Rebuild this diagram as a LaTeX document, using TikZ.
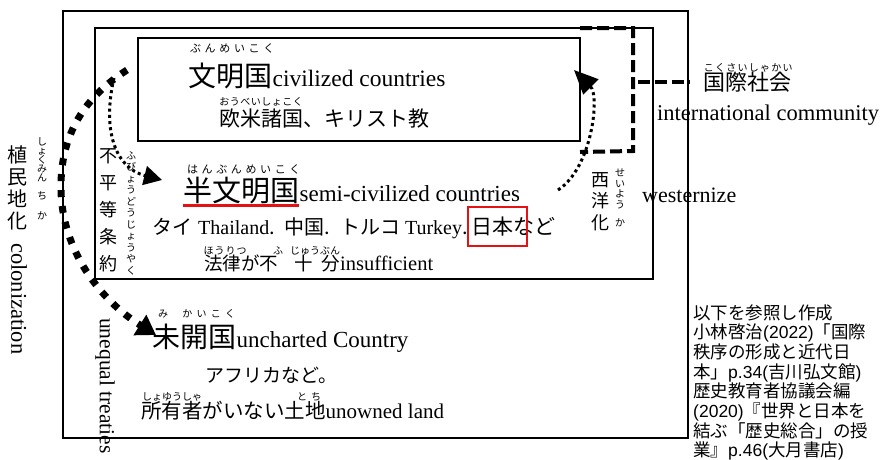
\documentclass[tikz,border=0pt]{standalone}
\usepackage{fontspec}
\setmainfont{Liberation Serif}
\newfontfamily\jpf{Noto Sans CJK JP}
\newfontfamily\lsf{Liberation Sans}
\usetikzlibrary{arrows.meta}
\newcommand\fs[1]{\fontsize{#1}{#1}\selectfont}
\makeatletter
\newcommand\rubyspread[2]{\makebox[#1][s]{\@tfor\rb@c:=#2\do{\hfil\rb@c\hfil}}}
\makeatother
\definecolor{myred}{RGB}{228,18,18}
\tikzset{
  txt/.style={inner sep=0pt, anchor=base west},
  vch/.style={inner sep=0pt, anchor=base},
  frame/.style={draw, line width=1.6pt, inner sep=0pt, anchor=north west},
  bigdots/.style={line width=7pt, dash pattern=on 7pt off 9pt, -{Triangle[length=19pt,width=23pt]}},
  thindots/.style={line width=3pt, dash pattern=on 3pt off 3.2pt, -{Triangle[length=18pt,width=19pt]}},
  westdots/.style={line width=3pt, dash pattern=on 3pt off 3.2pt, -{Triangle[length=24pt,width=21pt]}},
  bracket/.style={line width=4pt, dash pattern=on 12pt off 5pt},
}
\begin{document}
\begin{tikzpicture}[x=1pt,y=-1pt]
\useasboundingbox (0,0) rectangle (882,459);
% frames
\node[frame, minimum width=625pt, minimum height=427pt] (outer) at (62,10) {};
\node[frame, minimum width=558pt, minimum height=251pt] (middle) at (94,27) {};
\node[frame, minimum width=442pt, minimum height=103pt] (civbox) at (137,37) {};

% civilized
\node[txt] (bunmeiR) at (188,52) {\jpf\fs{11}\rubyspread{88pt}{ぶんめいこく}};
\node[txt] (bunmei) at (188,86) {\jpf\fs{28}文明国};
\node[txt] (civ) at (bunmei.base east) {\fs{23.5}civilized countries};
\node[txt] (oubeiR) at (219,105) {\jpf\fs{10}\rubyspread{84pt}{おうべいしょこく}};
\node[txt] (oubei) at (219,126) {\jpf\fs{21}欧米諸国、キリスト教};

% semi-civilized
\node[txt] (hanR) at (185,173) {\jpf\fs{11}\rubyspread{117pt}{はんぶんめいこく}};
\node[txt] (han) at (183,201) {\jpf\fs{29}半文明国};
\node[txt] (semi) at (han.base east) {\fs{23}semi-civilized countries};
\draw[myred, line width=3pt] ([yshift=-4pt]han.base west) -- ([yshift=-4pt]han.base east);
\node[txt] (tai) at (152,234) {\jpf\fs{20}タイ\hspace{6pt}{\rmfamily Thailand}.\hspace{10pt}中国.\hspace{10pt}トルコ\hspace{5pt}{\rmfamily Turkey}.\hspace{4pt}{\fs{21}日本など}};
\draw[myred, line width=2.5pt] (468,207) rectangle (527,246);
\node[txt] (houritsuR) at (203,254) {\jpf\fs{10}\rubyspread{44pt}{ほうりつ}};
\node[txt] (fuR) at (273,254) {\jpf\fs{10}ふ};
\node[txt] (juubunR) at (290,254) {\jpf\fs{10}\rubyspread{50pt}{じゅうぶん}};
\node[txt] (houritsu) at (204,270) {\jpf\fs{18.5}法律が不\hspace{16pt}十\hspace{9pt}分{\rmfamily\fs{20.5}insufficient}};

% uncharted
\node[txt] (miR) at (158,317) {\jpf\fs{10}み};
\node[txt] (kaikokuR) at (180,317) {\jpf\fs{10}\rubyspread{57pt}{かいこく}};
\node[txt] (mikai) at (152,347) {\jpf\fs{28}未開国};
\node[txt] (unch) at (mikai.base east) {\fs{23}uncharted Country};
\node[txt] (africa) at (205,382) {\jpf\fs{19}アフリカなど。};
\node[txt] (shoyuR) at (142,400) {\jpf\fs{10}\rubyspread{60pt}{しょゆうしゃ}};
\node[txt] (tochiR) at (295,400) {\jpf\fs{10}\rubyspread{28pt}{とち}};
\node[txt] (shoyu) at (141,418) {\jpf\fs{20.5}所有者がいない土地{\rmfamily\fs{21}unowned land}};

% international community
\node[txt] (kokusaiR) at (703,71) {\jpf\fs{10}\rubyspread{90pt}{こくさいしゃかい}};
\node[txt] (kokusai) at (703,90) {\jpf\fs{22}国際社会};
\node[txt] (intl) at (657,120) {\fs{22.5}international community};
\node[txt] (west) at (642,202) {\fs{22}westernize};

% vertical texts
\foreach \c [count=\i from 0] in {植,民,地,化}
  \node[vch, font={\jpf\fs{20}}] (shoku\i) at (18,162+22*\i) {\c};
\foreach \c/\y [count=\i] in {し/145,ょ/154,く/163,み/172,ん/181,ち/199,か/219}
  \node[vch, font={\jpf\fs{10}}] (shokuR\i) at (42,\y) {\c};
\node[txt, rotate=-90, anchor=west] (colon) at (19,243) {\fs{22.5}colonization};

\foreach \c [count=\i from 0] in {不,平,等,条,約}
  \node[vch, font={\jpf\fs{18}}] (fubyo\i) at (108,162+27*\i) {\c};
\foreach \c [count=\i from 0] in {ふ,び,ょ,う,ど,う,じ,ょ,う,や,く}
  \node[vch, font={\jpf\fs{10}}] (fubyoR\i) at (131,159+11.5*\i) {\c};
\node[txt, rotate=-90, anchor=west] (uneq) at (105,318) {\fs{21.5}unequal treaties};

\foreach \c [count=\i from 0] in {西,洋,化}
  \node[vch, font={\jpf\fs{18}}] (seiyo\i) at (600,186+21.5*\i) {\c};
\foreach \c/\y [count=\i] in {せ/176,い/187,よ/197,う/208,か/226}
  \node[vch, font={\jpf\fs{10}}] (seiyoR\i) at (620,\y) {\c};

% citation
\node[txt] (cite1) at (693,319) {\jpf\fs{17.5}以下を参照し作成};
\node[txt] (cite2) at (693,338.7) {\jpf\fs{17.5}小林啓治{\lsf (2022)}「国際};
\node[txt] (cite3) at (693,358.4) {\jpf\fs{17.5}秩序の形成と近代日};
\node[txt] (cite4) at (693,378.1) {\jpf\fs{17.5}本」{\lsf p.34(}吉川弘文館{\lsf )}};
\node[txt] (cite5) at (693,397.8) {\jpf\fs{17.5}歴史教育者協議会編};
\node[txt] (cite6) at (693,417.5) {\jpf\fs{17.5}{\lsf (2020)}『世界と日本を};
\node[txt] (cite7) at (693,437.2) {\jpf\fs{17.5}結ぶ「歴史総合」の授};
\node[txt] (cite8) at (693,456.5) {\jpf\fs{17.5}業』{\lsf p.46(}大月書店{\lsf )}};

% connectors
\coordinate (colStart) at (127,70);
\coordinate (colEnd) at (156,335);
\draw[bigdots] (colStart) .. controls (80,100) and (60,140) .. (61,190)
  .. controls (62,250) and (100,300) .. (colEnd);
\coordinate (civStart) at (114,78);
\coordinate (semiEnd) at (162,180);
\draw[thindots] (civStart) .. controls (102,130) and (115,168) .. (semiEnd);
\coordinate (westStart) at (558,190);
\coordinate (westEnd) at (574,70);
\draw[westdots] (westStart) .. controls (592,168) and (600,96) .. (westEnd);
\coordinate (brA) at (580,28);
\coordinate (brB) at (633,28);
\coordinate (brC) at (633,151);
\coordinate (brD) at (580,152);
\draw[bracket] (brA) -- (brB) -- (brC) -- (brD);
\coordinate (brM) at (638,82);
\draw[bracket] (brM) -- ([xshift=-13pt]kokusai.west |- 0,82);
\end{tikzpicture}
\end{document}
